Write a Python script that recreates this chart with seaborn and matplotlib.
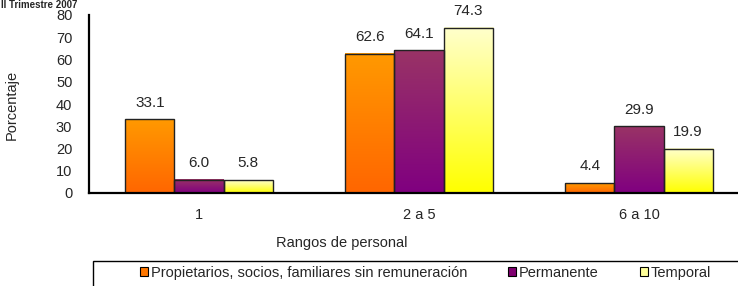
import numpy as np
import pandas as pd
import seaborn as sns
import matplotlib.pyplot as plt
from matplotlib.colors import LinearSegmentedColormap
from matplotlib.patches import Patch, Rectangle

rangos = ['1', '2 a 5', '6 a 10']
series = ['Propietarios, socios, familiares sin remuneración', 'Permanente', 'Temporal']
propietarios = [33.1, 62.6, 4.4]
permanente = [6.0, 64.1, 29.9]
temporal = [5.8, 74.3, 19.9]

# (bottom, top) colours of the gradient fill, and flat colour for the legend
grad_colors = [('#FF6600', '#FF9900'), ('#800080', '#993366'), ('#FFFF00', '#FFFFCC')]
legend_colors = ['#FF7700', '#800070', '#FFFF99']

df = pd.DataFrame({
    'rango': rangos * 3,
    'serie': [series[0]] * 3 + [series[1]] * 3 + [series[2]] * 3,
    'valor': propietarios + permanente + temporal,
})

sns.set_style('white')
plt.rcParams['font.family'] = ['Liberation Sans', 'DejaVu Sans']

fig = plt.figure(figsize=(7.38, 2.86), dpi=100)
ax = fig.add_axes([89 / 738, 1 - 193 / 286, 660 / 738, 178 / 286])

sns.barplot(data=df, x='rango', y='valor', hue='serie', hue_order=series,
            order=rangos, width=0.67, gap=0, palette=legend_colors,
            edgecolor='#222222', linewidth=1, legend=False, ax=ax)

# gradient fill inside each bar
for cont, (c0, c1) in zip(ax.containers, grad_colors):
    cmap = LinearSegmentedColormap.from_list('g', [c0, c1])
    for bar in cont:
        x0, y0 = bar.get_x(), bar.get_y()
        w, h = bar.get_width(), bar.get_height()
        ax.imshow(np.linspace(0, 1, 100).reshape(-1, 1), cmap=cmap, origin='lower',
                  extent=[x0, x0 + w, y0, y0 + h], aspect='auto', zorder=bar.get_zorder() - 0.1)
        bar.set_facecolor('none')
    ax.bar_label(cont, fmt='%.1f', padding=7, fontsize=11)

ax.set_xlim(-0.5, 2.5)
ax.set_ylim(0, 80)
ax.set_yticks(range(0, 81, 10))
ax.set_xticks([-0.5, 0.5, 1.5, 2.5], minor=True)
ax.tick_params(axis='x', which='major', length=0, pad=11, labelsize=10.5)
ax.tick_params(axis='x', which='minor', direction='out', length=4, width=1.2, color='black')
ax.tick_params(axis='y', direction='out', length=4, width=1.5, color='black', pad=8, labelsize=10.5)
ax.set_xlabel('')
ax.set_ylabel('')
for s in ['top', 'right']:
    ax.spines[s].set_visible(False)
for s in ['left', 'bottom']:
    ax.spines[s].set_color('black')
    ax.spines[s].set_linewidth(1.6)

fig.text(12 / 738, 1 - 105 / 286, 'Porcentaje', rotation=90, ha='center', va='center', fontsize=10.5)
fig.text(342 / 738, 1 - 243 / 286, 'Rangos de personal', ha='center', va='center', fontsize=10.5)
fig.text(1 / 738, 1 - 0.5 / 286, 'II Trimestre 2007', ha='left', va='top',
         fontsize=7, fontweight='bold')

# legend box runs off the right and bottom edges
fig.patches.append(Rectangle((93 / 738, -0.05), 0.95, 0.05 + 25 / 286, transform=fig.transFigure,
                             fill=False, edgecolor='black', linewidth=1, zorder=0))
handles = [Patch(facecolor=c, edgecolor='black', linewidth=0.8) for c in legend_colors]
fig.legend(handles, series, loc='center left', bbox_to_anchor=(140 / 738, 1 - 273 / 286),
           ncol=3, frameon=False, fontsize=10.5, handlelength=0.55, handleheight=0.55,
           handletextpad=0.2, columnspacing=2.8, borderpad=0, borderaxespad=0)

fig.savefig('out.png', dpi=100)
